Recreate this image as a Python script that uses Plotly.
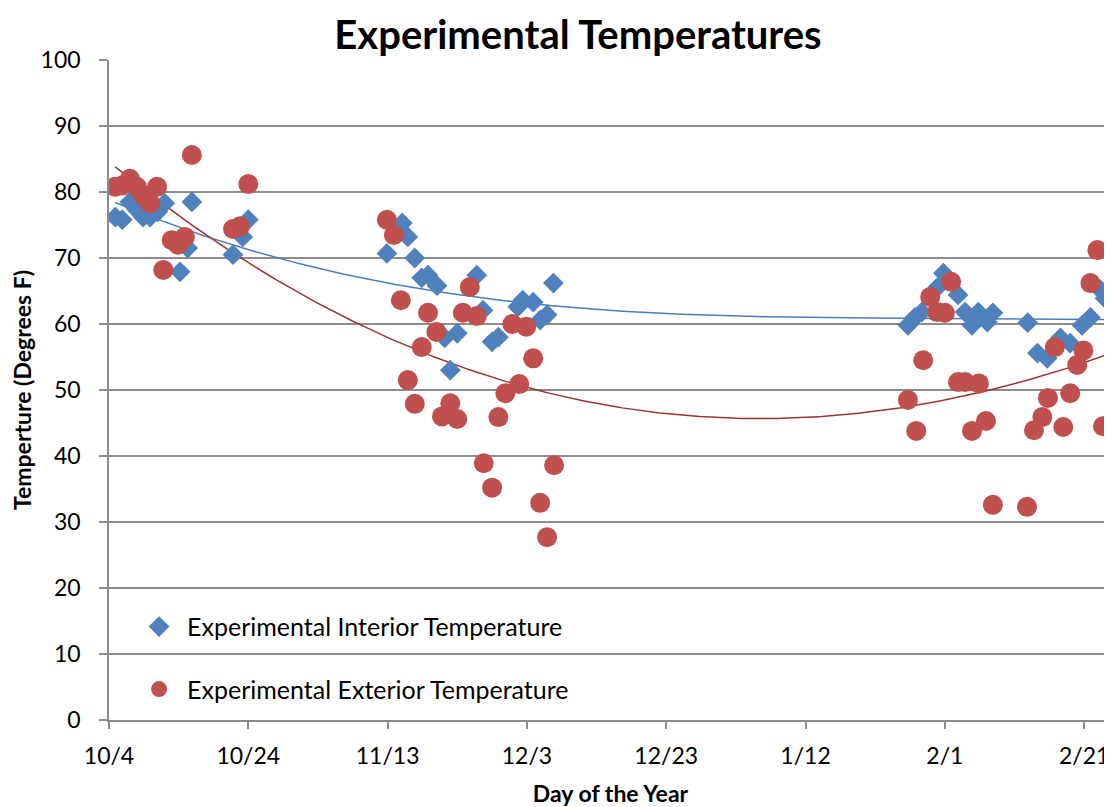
import numpy as np
import plotly.graph_objects as go

# Day offsets from 10/4
int_days = [0.9, 1.9, 3.0, 4.0, 4.9, 5.9, 7.0, 8.0, 10.2, 11.3, 11.9, 17.8, 19.2, 20.0,
            39.9, 42.1, 42.9, 43.9, 44.9, 45.8, 47.1, 48.2, 49.0, 50.0, 52.8, 53.7, 55.0, 55.9,
            58.7, 59.4, 60.9, 61.9, 62.9, 63.8,
            114.7, 115.7, 116.7, 119.0, 119.8, 121.9, 122.9, 123.9, 124.8, 126.1, 126.9,
            131.9, 133.3, 134.7, 136.6, 138.0, 139.7, 140.9, 142.3, 143.0]
int_temps = [76.2, 75.8, 78.5, 77.3, 76.2, 76.2, 77.0, 78.3, 67.9, 71.5, 78.5, 70.5, 73.2, 75.8,
             70.7, 75.3, 73.2, 70.0, 67.0, 67.4, 65.8, 57.9, 53.0, 58.6, 67.4, 62.1, 57.3, 58.0,
             62.6, 63.6, 63.3, 60.6, 61.4, 66.2,
             59.8, 61.0, 61.8, 65.6, 67.7, 64.4, 61.8, 59.8, 61.8, 60.3, 61.7,
             60.2, 55.6, 54.8, 57.9, 57.1, 59.8, 61.0, 65.2, 63.9]

ext_days = [0.9, 1.9, 3.0, 4.0, 4.9, 5.9, 6.9, 7.8, 9.0, 9.9, 10.9, 11.9, 17.8, 18.8, 20.0,
            39.9, 40.9, 41.9, 42.9, 43.9, 44.9, 45.8, 47.0, 47.8, 49.0, 50.0, 50.8, 51.8, 52.8,
            53.8, 55.0, 55.9, 56.9, 57.9, 58.9, 59.9, 60.9, 61.9, 62.9, 63.9,
            114.7, 115.9, 116.9, 117.9, 118.9, 120.0, 120.9, 121.9, 122.9, 123.9, 124.9, 125.9,
            126.9, 131.8, 132.8, 134.0, 134.8, 135.8, 137.0, 138.0, 139.0, 139.9, 140.9, 141.9, 142.7]
ext_temps = [80.8, 81.0, 82.0, 80.8, 79.5, 78.3, 80.8, 68.2, 72.7, 72.0, 73.2, 85.6, 74.4, 74.8, 81.2,
             75.8, 73.5, 63.6, 51.5, 47.9, 56.5, 61.7, 58.8, 46.0, 48.0, 45.6, 61.7, 65.6, 61.2,
             38.9, 35.2, 45.9, 49.5, 60.0, 50.9, 59.6, 54.8, 32.9, 27.7, 38.6,
             48.5, 43.8, 54.5, 64.1, 61.8, 61.7, 66.4, 51.2, 51.2, 43.8, 51.0, 45.3,
             32.6, 32.3, 43.9, 45.9, 48.8, 56.5, 44.4, 49.5, 53.8, 56.0, 66.2, 71.2, 44.5]

tick_days = [0, 20, 40, 60, 80, 100, 120, 140]
tick_labels = ["10/4", "10/24", "11/13", "12/3", "12/23", "1/12", "2/1", "2/21"]

BLUE = "#4F81BD"
RED = "#C0504D"
FONT = "Lato, 'Open Sans', sans-serif"
GRID = "#8c8c8c"

ORDER = 3
xi = np.array(int_days); yi = np.array(int_temps)
xe = np.array(ext_days); ye = np.array(ext_temps)
pi = np.polyfit(xi, yi, ORDER)
pe = np.polyfit(xe, ye, ORDER)
xt = np.linspace(min(xi.min(), xe.min()), 146, 300)

fig = go.Figure()
fig.add_trace(go.Scatter(x=xt, y=np.polyval(pi, xt), mode="lines",
                         line=dict(color="#4A7EBB", width=1.5), showlegend=False, hoverinfo="skip"))
fig.add_trace(go.Scatter(x=xt, y=np.polyval(pe, xt), mode="lines",
                         line=dict(color="#9E3330", width=1.5), showlegend=False, hoverinfo="skip"))
fig.add_trace(go.Scatter(x=int_days, y=int_temps, mode="markers", name="Experimental Interior Temperature",
                         marker=dict(symbol="diamond", size=16, color=BLUE, line=dict(width=0)),
                         legendgroup="a"))
fig.add_trace(go.Scatter(x=ext_days, y=ext_temps, mode="markers", name="Experimental Exterior Temperature",
                         marker=dict(symbol="circle", size=20, color=RED, line=dict(width=0)),
                         legendgroup="b"))

fig.update_layout(
    width=1104, height=799,
    margin=dict(l=101, r=0, t=52, b=87),
    paper_bgcolor="white", plot_bgcolor="white",
    font=dict(family=FONT, size=22, color="black"),
    title=dict(text="<b>Experimental Temperatures</b>", x=(578 - 8) / 1104, xanchor="center",
               y=1 - 27 / 799, yanchor="middle",
               font=dict(family=FONT, size=40, color="black")),
    legend=dict(x=0.022, y=0.176, xanchor="left", yanchor="top", bgcolor="rgba(0,0,0,0)",
                font=dict(family=FONT, size=25), tracegroupgap=27, itemsizing="trace", itemwidth=46),
    showlegend=True,
)
fig.update_xaxes(range=[0, 144], tickmode="array", tickvals=tick_days, ticktext=tick_labels,
                 showgrid=False, showline=True, linecolor=GRID, linewidth=1.5,
                 ticks="outside", ticklen=7, tickcolor=GRID, tickwidth=1.5, ticklabelstandoff=8,
                 tickfont=dict(family=FONT, size=23), zeroline=False,
                 title=dict(text="<b>Day of the Year</b>", font=dict(family=FONT, size=23), standoff=19))
fig.update_yaxes(range=[0, 100], dtick=10, showgrid=True, gridcolor=GRID, gridwidth=1.5,
                 showline=True, linecolor=GRID, linewidth=1.5,
                 ticks="outside", ticklen=8, tickcolor=GRID, tickwidth=1.5, ticklabelstandoff=14,
                 tickfont=dict(family=FONT, size=23), zeroline=False,
                 title=dict(text="<b>Temperture (Degrees F)</b>", font=dict(family=FONT, size=23), standoff=8))

fig.write_html("out.html")
